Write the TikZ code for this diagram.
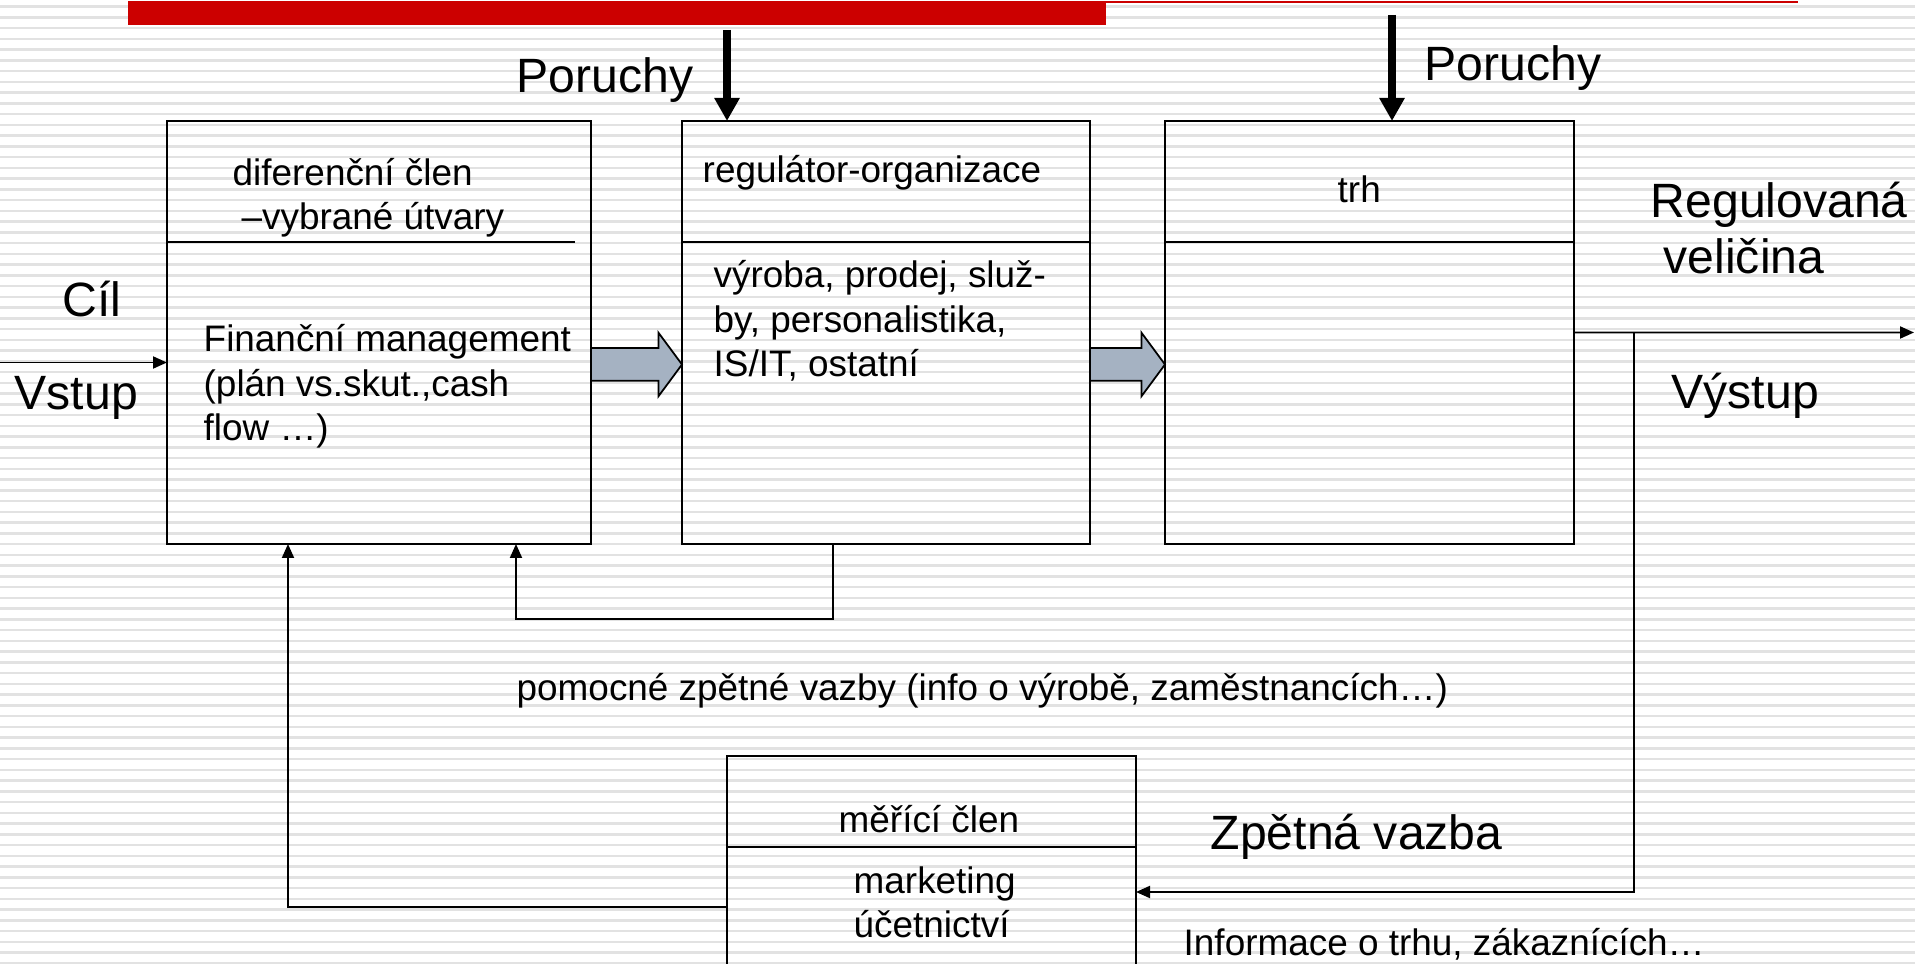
\documentclass[tikz,border=0pt]{standalone}
\usepackage{fontspec}
\setmainfont{Liberation Sans}
\usepackage{xcolor}
\usepackage{tikz}
\usetikzlibrary{positioning, arrows.meta, shapes.arrows}

\definecolor{barred}{RGB}{204,0,0}
\definecolor{flowblue}{RGB}{165,178,194}
\definecolor{stripegray}{RGB}{226,226,226}

\begin{document}
\begin{tikzpicture}[
  x=0.1mm, y=-0.1mm,
  node distance=9.1mm,
  box/.style={draw, line width=0.55pt, inner sep=0pt, outer sep=0pt, minimum height=42.3mm},
  txt/.style={font=\fontsize{10.5}{12.8}\selectfont, inner sep=0pt, anchor=base west, align=left},
  big/.style={font=\fontsize{13.7}{16.2}\selectfont, inner sep=0pt, anchor=base west, align=left},
  arrow/.style={-{Triangle[length=1.4mm, width=1.2mm]}, line width=0.55pt},
  disturb/.style={-{Triangle[length=2.3mm, width=2.4mm]}, line width=0.75mm},
  flowarrow/.style={single arrow, draw, fill=flowblue, line width=0.5pt,
    inner xsep=0pt, inner ysep=1.55mm, outer sep=0pt,
    minimum width=6.2mm, single arrow head extend=1.55mm,
    single arrow tip angle=107}
]
  \useasboundingbox (0,0) rectangle (1915,964);
  \clip (0,0) rectangle (1915,964);
  \fill[white] (0,0) rectangle (1915,964);
  % background stripes
  \foreach \k in {0,...,89}
    \draw[stripegray, line width=0.25mm] (0,{6.7+10.75*\k}) -- (1915,{6.7+10.75*\k});
  % title bar
  \fill[barred] (128,1) rectangle (1106,25);
  \draw[barred, line width=0.2mm] (1106,2) -- (1798,2);

  % blocks
  \node[box, minimum width=42.4mm, anchor=north west] (dif) at (167,121) {};
  \node[box, minimum width=40.8mm, right=of dif] (reg) {};
  \node[box, minimum width=40.9mm, right=7.5mm of reg] (mkt) {};
  \node[box, minimum width=40.9mm, minimum height=27.2mm, anchor=north west] (meas) at (727,756) {};

  \draw[line width=0.55pt] ([yshift=-12.1mm]dif.north west) -- ++(408,0);
  \draw[line width=0.55pt] ([yshift=-12.1mm]reg.north west) -- ([yshift=-12.1mm]reg.north east);
  \draw[line width=0.55pt] ([yshift=-12.1mm]mkt.north west) -- ([yshift=-12.1mm]mkt.north east);
  \draw[line width=0.55pt] ([yshift=-9.1mm]meas.north west) -- ([yshift=-9.1mm]meas.north east);

  % texts in blocks (base = last line)
  \node[txt] (difhead) at (232,230) {diferenční člen\\\hspace{0.9mm}–vybrané útvary};
  \node[txt] (difbody) at (203,441) {Finanční management\\(plán vs.skut.,cash\\flow …)};
  \node[txt] (reghead) at (702,183) {regulátor-organizace};
  \node[txt] (regbody) at (713,377) {výroba, prodej, služ-\\by, personalistika,\\IS/IT, ostatní};
  \node[txt] (mkthead) at (1337,203) {trh};
  \node[txt] (meashead) at (838,832) {měřící člen};
  \node[txt, font=\fontsize{10.5}{12.4}\selectfont] (measbody) at (853,937) {marketing\\účetnictví};

  % labels
  \node[big] (dist1) at (516,93) {Poruchy};
  \node[big] (dist2) at (1424,81) {Poruchy};
  \node[big] (goal) at (62,317) {Cíl};
  \node[big] (inlbl) at (14,410) {Vstup};
  \node[big] (outvar) at (1650,274) {Regulovaná\\\hspace{1.3mm}veličina};
  \node[big] (outlbl) at (1671,409) {Výstup};
  \node[big] (fblbl) at (1210,849) {Zpětná vazba};
  \node[txt] (auxlbl) at (516,701) {pomocné zpětné vazby (info o výrobě, zaměstnancích…)};
  \node[txt] (infolbl) at (1183,955) {Informace o trhu, zákaznících…};

  % connectors
  \coordinate (src) at (0,362.5);
  \coordinate (out) at (1914,332.5);
  \coordinate (d1) at (727,30);
  \coordinate (d2) at (1392,15);
  \draw[arrow] (src) -- (src -| dif.west);
  \draw[disturb] (d1) -- (d1 |- reg.north);
  \draw[disturb] (d2) -- (d2 |- mkt.north);
  \node[flowarrow, minimum height=9.1mm, anchor=tip] (flow1) at ([yshift=-3.2mm]reg.west) {};
  \node[flowarrow, minimum height=7.5mm, anchor=tip] (flow2) at ([yshift=-3.2mm]mkt.west) {};
  \draw[arrow] (mkt.east) -- (out);
  \draw[arrow] ([xshift=6mm]mkt.east) |- (meas.east);
  \draw[arrow] ([yshift=-1.5mm]meas.west) -| ([xshift=-9.1mm]dif.south);
  \draw[arrow] ([xshift=-5.3mm]reg.south) -- ++(0,75) -| ([xshift=-7.5mm]dif.south east);
\end{tikzpicture}
\end{document}
